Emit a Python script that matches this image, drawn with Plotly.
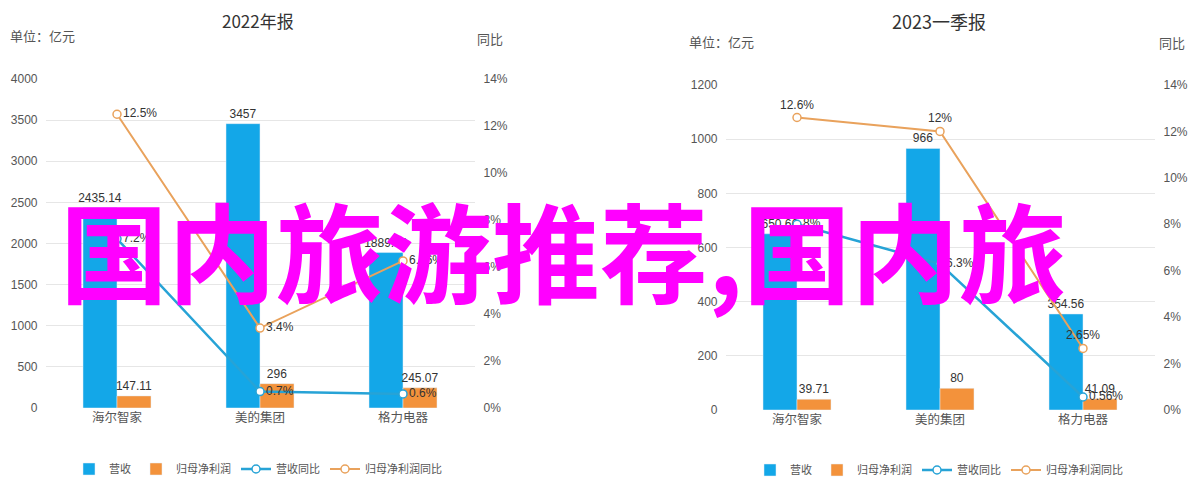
import plotly.graph_objects as go

W, H = 1200, 482
OFF = 8  # the page body margin shifts the figure by 8 px

companies = ["海尔智家", "美的集团", "格力电器"]

# 2022 annual report
rev_2022 = [2435.14, 3457, 1889.88]
profit_2022 = [147.11, 296, 245.07]
rev_yoy_2022 = [7.2, 0.7, 0.6]
profit_yoy_2022 = [12.5, 3.4, 6.26]

# 2023 Q1 report
rev_2023q1 = [650.66, 966, 354.56]
profit_2023q1 = [39.71, 80, 41.09]
rev_yoy_2023q1 = [8, 6.3, 0.56]
profit_yoy_2023q1 = [12.6, 12, 2.65]

series_names = ["营收", "归母净利润", "营收同比", "归母净利润同比"]
titles = ["2022年报", "2023一季报"]
overlay_text = "国内旅游推荐,国内旅"

BLUE = "#13a7e8"
ORANGE = "#f3923b"
BLUE_LINE = "#27a3d6"
ORANGE_LINE = "#e9a25c"
TXT = "#333333"
TICK = "#555555"
NUM_FONT = "Liberation Sans, Arial, sans-serif"
CJK_FONT = "Noto Sans CJK SC, sans-serif"


def px_x(p):
    return (p - OFF) / W


def px_y(p):
    return 1 - (p - OFF) / H


def fmt(v):
    return f"{v:g}"


fig = go.Figure()


def add_panel(rev, profit, rev_yoy, profit_yoy, xa, ya, ya2, legend, orange_pos):
    fig.add_trace(go.Bar(
        x=companies, y=rev, name=series_names[0], marker_color=BLUE,
        xaxis=xa, yaxis=ya, legend=legend, text=[fmt(v) for v in rev],
        texttemplate="%{text}", textposition="outside", constraintext="none",
        textfont=dict(size=12, color=TXT, family=NUM_FONT),
        cliponaxis=False, offsetgroup="rev",
    ))
    fig.add_trace(go.Bar(
        x=companies, y=profit, name=series_names[1], marker_color=ORANGE,
        xaxis=xa, yaxis=ya, legend=legend, text=[fmt(v) for v in profit],
        texttemplate="%{text}", textposition="outside", constraintext="none",
        textfont=dict(size=12, color=TXT, family=NUM_FONT),
        cliponaxis=False, offsetgroup="profit",
    ))
    fig.add_trace(go.Scatter(
        x=companies, y=rev_yoy, name=series_names[2], mode="lines+markers+text",
        line=dict(color=BLUE_LINE, width=2.5),
        marker=dict(symbol="circle", size=8, color="white", line=dict(color=BLUE_LINE, width=1.5)),
        text=[fmt(v) + "%" for v in rev_yoy], texttemplate="%{text}",
        textposition="middle right",
        textfont=dict(size=12, color=TXT, family=NUM_FONT),
        xaxis=xa, yaxis=ya2, legend=legend, cliponaxis=False,
    ))
    fig.add_trace(go.Scatter(
        x=companies, y=profit_yoy, name=series_names[3], mode="lines+markers+text",
        line=dict(color=ORANGE_LINE, width=2),
        marker=dict(symbol="circle", size=8, color="white", line=dict(color=ORANGE_LINE, width=1.5)),
        text=[fmt(v) + "%" for v in profit_yoy], texttemplate="%{text}",
        textposition=orange_pos,
        textfont=dict(size=12, color=TXT, family=NUM_FONT),
        xaxis=xa, yaxis=ya2, legend=legend, cliponaxis=False,
    ))


add_panel(rev_2022, profit_2022, rev_yoy_2022, profit_yoy_2022, "x", "y", "y2", "legend",
          "middle right")
add_panel(rev_2023q1, profit_2023q1, rev_yoy_2023q1, profit_yoy_2023q1, "x2", "y3", "y4", "legend2",
          "top center")

xcommon = dict(type="category", showline=False, ticks="", showgrid=False, zeroline=False,
               automargin=False,
               tickfont=dict(size=12.5, color="#555", family=CJK_FONT), range=[-0.5, 2.5])
ycommon = dict(showline=False, ticks="", zeroline=False, gridcolor="#e6e6e6", gridwidth=1,
               automargin=False,
               tickfont=dict(size=12, color=TICK, family=NUM_FONT), ticklabelstandoff=7)
y2common = dict(showline=False, ticks="", zeroline=False, showgrid=False, side="right",
                range=[0, 14], dtick=2, ticksuffix="%", automargin=False,
                tickfont=dict(size=12, color=TICK, family=NUM_FONT), ticklabelstandoff=8)

legend_common = dict(orientation="h", xanchor="center", yanchor="middle",
                     font=dict(size=11, color="#555", family=CJK_FONT), itemwidth=30,
                     bgcolor="rgba(0,0,0,0)")

fig.update_layout(
    width=W, height=H, margin=dict(l=0, r=0, t=0, b=0, autoexpand=False),
    paper_bgcolor="white", plot_bgcolor="white",
    barmode="group", bargap=0.5245, bargroupgap=0,
    xaxis=dict(domain=[px_x(45.5), px_x(474.5)], anchor="y", **xcommon),
    yaxis=dict(domain=[px_y(408), px_y(79)], range=[0, 4000], dtick=500, anchor="x", **ycommon),
    yaxis2=dict(overlaying="y", anchor="x", **y2common),
    xaxis2=dict(domain=[px_x(725.5), px_x(1154.5)], anchor="y3", **xcommon),
    yaxis3=dict(domain=[px_y(410), px_y(85)], range=[0, 1200], dtick=200, anchor="x2", **ycommon),
    yaxis4=dict(overlaying="y3", anchor="x2", **y2common),
    legend=dict(x=px_x(258), y=px_y(469), **legend_common),
    legend2=dict(x=px_x(939), y=px_y(470), **legend_common),
    showlegend=True,
)

annots = [
    dict(text=titles[0], x=px_x(258), y=px_y(20), borderpad=0,
         font=dict(size=17, color=TXT, family=CJK_FONT)),
    dict(text=titles[1], x=px_x(939), y=px_y(21), borderpad=0,
         font=dict(size=18, color=TXT, family=CJK_FONT)),
    dict(text="单位：亿元", x=px_x(8), y=px_y(35), xanchor="left",
         font=dict(size=13, color=TICK, family=CJK_FONT)),
    dict(text="同比", x=px_x(475), y=px_y(38), xanchor="left",
         font=dict(size=13, color=TICK, family=CJK_FONT)),
    dict(text="单位：亿元", x=px_x(687), y=px_y(42), xanchor="left",
         font=dict(size=13, color=TICK, family=CJK_FONT)),
    dict(text="同比", x=px_x(1157), y=px_y(43), xanchor="left",
         font=dict(size=13, color=TICK, family=CJK_FONT)),
    dict(text=overlay_text, x=px_x(563), y=px_y(248),
         font=dict(size=108, color="#ff00ff", family=CJK_FONT, weight=700)),
]
for a in annots:
    a.setdefault("xanchor", "center")
    a.setdefault("yanchor", "middle")
    fig.add_annotation(xref="paper", yref="paper", showarrow=False, **a)

fig.write_html("out.html")
